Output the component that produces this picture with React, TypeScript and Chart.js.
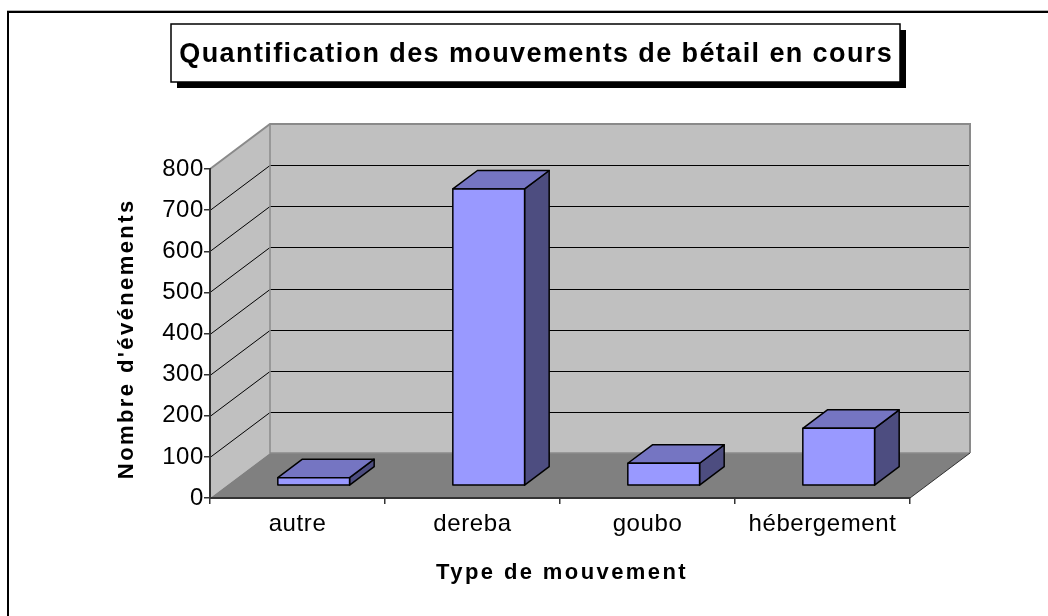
import React, { useEffect, useRef } from "react";
import { Chart, registerables } from "chart.js";

Chart.register(...registerables);

// ---- data ----
const categories = ["autre", "dereba", "goubo", "hébergement"];
const values = [20, 722, 55, 140];
const yTicks = [0, 100, 200, 300, 400, 500, 600, 700, 800];
const titleText = "Quantification des mouvements de bétail en cours";
const xTitle = "Type de mouvement";
const yTitle = "Nombre d'événements";

// ---- 3D geometry / style constants ----
const DX = 60; // depth offset of back wall (px)
const DY = 45;
const F_FRONT = 0.27; // bar front plane as fraction of depth
const F_DEPTH = 0.41; // bar depth as fraction of depth
const FONT = "'Liberation Sans', Arial, sans-serif";

const WALL = "#c0c0c0";
const FLOOR = "#808080";
const EDGE = "#8a8a8a";
const BAR_FRONT = "#9999ff";
const BAR_TOP = "#7575c2";
const BAR_SIDE = "#4d4d80";

function poly(ctx: CanvasRenderingContext2D, pts: number[][], fill?: string, stroke?: string, lw = 1) {
  ctx.beginPath();
  ctx.moveTo(pts[0][0], pts[0][1]);
  for (let i = 1; i < pts.length; i++) ctx.lineTo(pts[i][0], pts[i][1]);
  ctx.closePath();
  if (fill) {
    ctx.fillStyle = fill;
    ctx.fill();
  }
  if (stroke) {
    ctx.strokeStyle = stroke;
    ctx.lineWidth = lw;
    ctx.stroke();
  }
}

const threeD = {
  id: "threeD",
  beforeDraw(chart: any) {
    const ctx: CanvasRenderingContext2D = chart.ctx;
    const { left, right, bottom } = chart.chartArea;
    const ys = chart.scales.y;
    const top = ys.getPixelForValue(yTicks[yTicks.length - 1]);
    ctx.save();
    ctx.fillStyle = "#fff";
    ctx.fillRect(0, 0, chart.width, chart.height);

    // outer frame
    ctx.fillStyle = "#b4b4b4";
    ctx.fillRect(7, 10, chart.width, 1);
    ctx.fillStyle = "#000";
    ctx.fillRect(7, 11, chart.width, 2);
    ctx.fillRect(7, 11, 2, chart.height);

    // title box with shadow
    const bx = 171, by = 24, bw = 729, bh = 58;
    ctx.fillStyle = "#000";
    ctx.fillRect(bx + 6, by + 6, bw, bh);
    ctx.fillStyle = "#fff";
    ctx.fillRect(bx, by, bw, bh);
    ctx.strokeStyle = "#000";
    ctx.lineWidth = 1.5;
    ctx.strokeRect(bx, by, bw, bh);
    ctx.fillStyle = "#000";
    ctx.font = `bold 27px ${FONT}`;
    (ctx as any).letterSpacing = "1.4px";
    ctx.textAlign = "center";
    ctx.textBaseline = "alphabetic";
    ctx.fillText(titleText, bx + bw / 2 + 0.7, 62);

    // walls
    poly(ctx, [[left, top], [left + DX, top - DY], [left + DX, bottom - DY], [left, bottom]], WALL);
    poly(ctx, [[left + DX, top - DY], [right + DX, top - DY], [right + DX, bottom - DY], [left + DX, bottom - DY]], WALL);
    poly(ctx, [[left, bottom], [right, bottom], [right + DX, bottom - DY], [left + DX, bottom - DY]], FLOOR);

    // gridlines
    ctx.strokeStyle = "#000";
    ctx.lineWidth = 1;
    yTicks.forEach((v) => {
      if (v === yTicks[0] || v === yTicks[yTicks.length - 1]) return;
      const py = Math.round(ys.getPixelForValue(v)) + 0.5;
      ctx.beginPath();
      ctx.moveTo(left, py);
      ctx.lineTo(left + DX, py - DY);
      ctx.lineTo(right + DX, py - DY);
      ctx.stroke();
    });

    // wall edges
    ctx.strokeStyle = EDGE;
    ctx.lineWidth = 2;
    ctx.beginPath();
    ctx.moveTo(left, top);
    ctx.lineTo(left + DX, top - DY);
    ctx.lineTo(right + DX, top - DY);
    ctx.lineTo(right + DX, bottom - DY);
    ctx.stroke();
    ctx.lineWidth = 1.5;
    ctx.beginPath();
    ctx.moveTo(left + DX, top - DY);
    ctx.lineTo(left + DX, bottom - DY);
    ctx.lineTo(right + DX, bottom - DY);
    ctx.stroke();
    ctx.strokeStyle = "#303030";
    ctx.lineWidth = 1;
    ctx.beginPath();
    ctx.moveTo(right, bottom);
    ctx.lineTo(right + DX, bottom - DY);
    ctx.stroke();

    // axis titles
    ctx.fillStyle = "#000";
    ctx.font = `bold 22px ${FONT}`;
    (ctx as any).letterSpacing = "2.4px";
    ctx.textAlign = "center";
    ctx.textBaseline = "alphabetic";
    ctx.fillText(xTitle, (left + right) / 2 + 2, 579);
    ctx.save();
    ctx.translate(133, 340);
    ctx.rotate(-Math.PI / 2);
    ctx.fillText(yTitle, 1.2, 0);
    ctx.restore();
    ctx.restore();
    (ctx as any).letterSpacing = "0.6px";
  },
  afterDatasetsDraw(chart: any) {
    const ctx: CanvasRenderingContext2D = chart.ctx;
    (ctx as any).letterSpacing = "0px";
    const meta = chart.getDatasetMeta(0);
    const fx = F_FRONT * DX, fy = F_FRONT * DY;
    const dx = F_DEPTH * DX, dy = F_DEPTH * DY;
    ctx.save();
    ctx.lineJoin = "round";
    meta.data.forEach((el: any) => {
      const { x, y, base, width } = el.getProps(["x", "y", "base", "width"], true);
      const l = x - width / 2 + fx;
      const r = x + width / 2 + fx;
      const t = y - fy;
      const b = base - fy;
      poly(ctx, [[r, b], [r, t], [r + dx, t - dy], [r + dx, b - dy]], BAR_SIDE, "#000", 1.5);
      poly(ctx, [[l, t], [r, t], [r + dx, t - dy], [l + dx, t - dy]], BAR_TOP, "#000", 1.5);
      poly(ctx, [[l, b], [l, t], [r, t], [r, b]], BAR_FRONT, "#000", 1.5);
    });
    ctx.restore();
  },
};

export default function App() {
  const ref = useRef<HTMLCanvasElement | null>(null);
  useEffect(() => {
    if (!ref.current) return;
    const chart = new Chart(ref.current, {
      type: "bar",
      data: {
        labels: categories,
        datasets: [
          {
            data: values,
            backgroundColor: "rgba(0,0,0,0)",
            borderWidth: 0,
            categoryPercentage: 1,
            barPercentage: 0.41,
          },
        ],
      },
      options: {
        animation: false,
        responsive: false,
        devicePixelRatio: 1,
        layout: { padding: { left: 150, right: 138, top: 169, bottom: 58 } },
        plugins: {
          legend: { display: false },
          tooltip: { enabled: false },
          title: { display: false },
        },
        scales: {
          x: {
            type: "category",
            offset: true,
            grid: {
              offset: true,
              drawOnChartArea: false,
              drawTicks: true,
              tickLength: 6,
              color: "#333",
              lineWidth: 1.5,
            },
            border: { display: true, color: "#333", width: 2 },
            ticks: {
              color: "#000",
              font: { family: FONT, size: 24 },
              padding: 6,
              maxRotation: 0,
              autoSkip: false,
            },
            afterFit: (s: any) => {
              s.height = 60;
            },
          },
          y: {
            type: "linear",
            min: yTicks[0],
            max: yTicks[yTicks.length - 1],
            grid: {
              drawOnChartArea: false,
              drawTicks: true,
              tickLength: 6,
              color: "#333",
              lineWidth: 1.5,
            },
            border: { display: true, color: "#333", width: 2 },
            ticks: {
              color: "#000",
              font: { family: FONT, size: 24 },
              padding: 0,
            },
            afterBuildTicks: (s: any) => {
              s.ticks = yTicks.map((v) => ({ value: v }));
            },
            afterFit: (s: any) => {
              s.width = 60;
            },
          },
        },
      },
      plugins: [threeD],
    } as any);
    return () => chart.destroy();
  }, []);
  return (
    <div style={{ position: "absolute", left: 0, top: 0, width: 1048, height: 616 }}>
      <canvas ref={ref} width={1048} height={616} style={{ display: "block" }} />
    </div>
  );
}
